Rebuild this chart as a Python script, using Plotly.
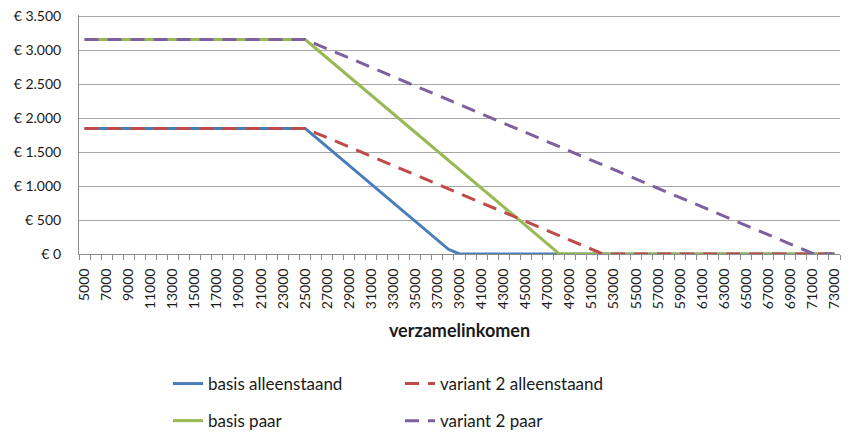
import plotly.graph_objects as go

inkomen = [5000, 6000, 7000, 8000, 9000, 10000, 11000, 12000, 13000, 14000,
           15000, 16000, 17000, 18000, 19000, 20000, 21000, 22000, 23000, 24000,
           25000, 26000, 27000, 28000, 29000, 30000, 31000, 32000, 33000, 34000,
           35000, 36000, 37000, 38000, 39000, 40000, 41000, 42000, 43000, 44000,
           45000, 46000, 47000, 48000, 49000, 50000, 51000, 52000, 53000, 54000,
           55000, 56000, 57000, 58000, 59000, 60000, 61000, 62000, 63000, 64000,
           65000, 66000, 67000, 68000, 69000, 70000, 71000, 72000, 73000]

basis_alleenstaand = [1850] * 21 + [1713, 1576, 1439, 1302, 1165, 1028, 891, 754, 617, 480, 343, 206, 69] + [0] * 35
basis_paar = [3160] * 21 + [3023, 2886, 2749, 2612, 2475, 2338, 2201, 2064, 1927, 1790, 1653, 1516,
                            1379, 1242, 1105, 968, 831, 694, 557, 420, 283, 146, 9] + [0] * 25
variant2_alleenstaand = [1850] * 21 + [1782, 1713, 1645, 1576, 1508, 1439, 1371, 1302, 1234, 1165, 1097, 1028,
                                       960, 891, 823, 754, 686, 617, 549, 480, 412, 343, 275, 206, 138, 69] + [0] * 22
variant2_paar = [3160] * 21 + [3092, 3023, 2955, 2886, 2818, 2749, 2681, 2612, 2544, 2475, 2407, 2338,
                               2270, 2201, 2133, 2064, 1996, 1927, 1859, 1790, 1722, 1653, 1585, 1516,
                               1448, 1379, 1311, 1242, 1174, 1105, 1037, 968, 900, 831, 763, 694, 626,
                               557, 489, 420, 352, 283, 215, 146, 78, 9, 0, 0]

x_ticks = list(range(5000, 74000, 2000))
x_ticktext = [str(v) for v in x_ticks]
y_ticks = [0, 500, 1000, 1500, 2000, 2500, 3000, 3500]
y_ticktext = ["€ 0", "€ 500", "€ 1.000", "€ 1.500", "€ 2.000", "€ 2.500", "€ 3.000", "€ 3.500"]

FONT = "Lato, 'Liberation Sans', sans-serif"

fig = go.Figure()
series = [
    ("basis alleenstaand", basis_alleenstaand, "#4A7EBB", "solid", "legend"),
    ("basis paar", basis_paar, "#98B954", "solid", "legend"),
    ("variant 2 alleenstaand", variant2_alleenstaand, "#BE4B48", "14px,9px", "legend2"),
    ("variant 2 paar", variant2_paar, "#7D60A0", "14px,9px", "legend2"),
]
for name, vals, col, dash, leg in series:
    fig.add_trace(go.Scatter(
        x=inkomen, y=vals, name=name, mode="lines",
        line=dict(color=col, width=3, dash=dash),
        legend=leg, legendgroup=name,
    ))

# page body has an 8px margin, so the figure is 845x426 placed at (8, 8)
FIG_W, FIG_H = 845, 426
legend_top = 1 - 358 / FIG_H
fig.update_layout(
    width=FIG_W, height=FIG_H,
    margin=dict(l=71, r=13, t=7, b=180),
    paper_bgcolor="white", plot_bgcolor="white",
    font=dict(family=FONT, color="#1a1a1a"),
    showlegend=True,
    legend=dict(x=89 / 761, xanchor="left", y=legend_top, yanchor="top", yref="container",
                orientation="v", font=dict(size=17, family=FONT, color="#1a1a1a"),
                tracegroupgap=12, bgcolor="rgba(0,0,0,0)"),
    legend2=dict(x=321 / 761, xanchor="left", y=legend_top, yanchor="top", yref="container",
                 orientation="v", font=dict(size=17, family=FONT, color="#1a1a1a"),
                 tracegroupgap=12, bgcolor="rgba(0,0,0,0)"),
)

fig.update_xaxes(
    type="linear", range=[4500, 73500], automargin=False,
    tickmode="array", tickvals=x_ticks, ticktext=x_ticktext, tickangle=-90,
    ticks="", tickfont=dict(size=14, family=FONT, color="#1a1a1a"),
    minor=dict(ticks="outside", tickmode="linear", tick0=4500, dtick=1000,
               ticklen=5, tickcolor="#8c8c8c", tickwidth=1, showgrid=False),
    showgrid=False, zeroline=False,
    showline=True, linecolor="#8c8c8c", linewidth=1,
    ticklabelstandoff=8,
    title=dict(text="<b>verzamelinkomen</b>", font=dict(size=18, family=FONT, color="#1a1a1a"), standoff=16),
)
fig.update_yaxes(
    range=[0, 3520], automargin=False, tickmode="array", tickvals=y_ticks, ticktext=y_ticktext,
    tickfont=dict(size=14, family=FONT, color="#1a1a1a"), ticklabeloverflow="allow",
    showgrid=True, gridcolor="#a6a6a6", gridwidth=1,
    zeroline=False, showline=True, linecolor="#8c8c8c", linewidth=1,
    ticks="", ticklabelstandoff=14,
)

fig.write_html("out.html")
